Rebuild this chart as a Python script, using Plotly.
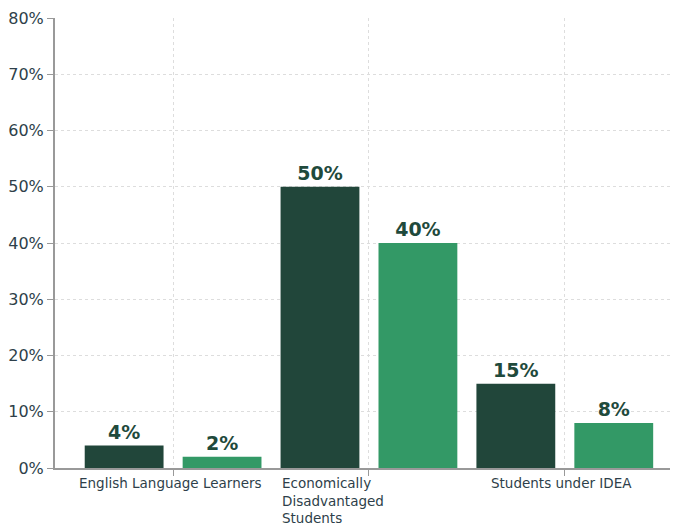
import plotly.graph_objects as go

categories = ["English Language Learners", "Economically<br>Disadvantaged<br>Students", "Students under IDEA"]
series_a = [4, 50, 15]
series_b = [2, 40, 8]
y_ticks = [0, 10, 20, 30, 40, 50, 60, 70, 80]

DARK = "#21463a"
GREEN = "#339966"
TEXT = "#2e3f4a"
FONT = "DejaVu Sans"

xs = list(range(len(categories)))

fig = go.Figure()
for vals, col in [(series_a, DARK), (series_b, GREEN)]:
    fig.add_trace(go.Bar(
        x=xs, y=vals, marker=dict(color=col, line=dict(width=0)),
        text=[f"{v}%" for v in vals], textposition="outside", cliponaxis=False,
        textfont=dict(family=FONT, size=19, color="#1f4a3c", weight="bold"),
        showlegend=False,
    ))

anns = []
for i, c in enumerate(categories):
    if "<br>" in c:
        anns.append(dict(x=i, y=0, xref="x", yref="paper", text=c, showarrow=False,
                         xanchor="left", yanchor="top", align="left", xshift=-89, yshift=-5,
                         font=dict(family=FONT, size=13.5, color=TEXT)))
    else:
        anns.append(dict(x=i, y=0, xref="x", yref="paper", text=c, showarrow=False,
                         xanchor="center", yanchor="top", yshift=-5, xshift=-3,
                         font=dict(family=FONT, size=13.5, color=TEXT)))

fig.update_layout(
    width=670, height=517,
    margin=dict(l=45, r=0, t=10, b=57),
    plot_bgcolor="white", paper_bgcolor="white",
    barmode="group", bargap=0, bargroupgap=0.195,
    annotations=anns,
    xaxis=dict(range=[-0.603, 2.578], tickvals=xs, showticklabels=False,
               ticks="outside", ticklen=6, tickcolor="#999999",
               showgrid=True, gridcolor="#dddddd", griddash="dot", gridwidth=1,
               showline=True, linecolor="#999999", linewidth=2, zeroline=False),
    yaxis=dict(range=[0, 80], tickvals=y_ticks, ticktext=[f"{v}%" for v in y_ticks],
               ticks="outside", ticklen=6, tickcolor="#999999",
               tickfont=dict(family=FONT, size=16, color=TEXT),
               showgrid=True, gridcolor="#dddddd", griddash="dot", gridwidth=1,
               showline=True, linecolor="#999999", linewidth=2, zeroline=False),
)

fig.write_html("out.html")
